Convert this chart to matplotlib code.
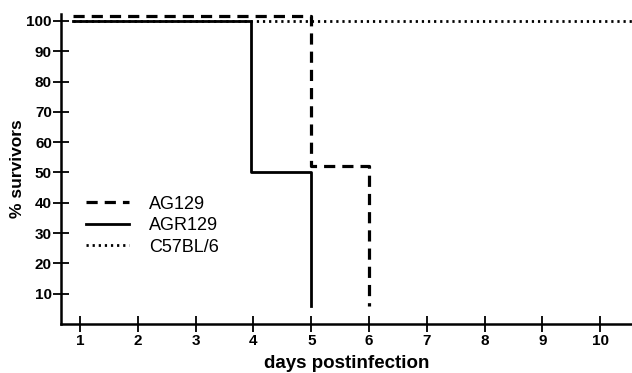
import matplotlib
matplotlib.use("Agg")
import matplotlib.pyplot as plt

plt.rcParams['font.family'] = ['Liberation Sans', 'DejaVu Sans']

# survival curves (days, % survivors)
ag129_days = [0.88, 5, 6, 6]
ag129_surv = [101.5, 52, 6, 6]
agr129_days = [0.88, 3.95, 5, 5]
agr129_surv = [100, 50, 6, 6]
c57_days = [0.88, 10.55]
c57_surv = [100, 100]

x_ticks = [1, 2, 3, 4, 5, 6, 7, 8, 9, 10]
y_ticks = [10, 20, 30, 40, 50, 60, 70, 80, 90, 100]

fig = plt.figure(figsize=(6.32, 3.73), dpi=100)
ax = fig.add_axes([61 / 632, 49 / 373, 1 - 61 / 632, (324 - 14) / 373])

ax.plot(ag129_days, ag129_surv, drawstyle='steps-post', color='black',
        lw=2.3, dashes=(3.5, 2.2), label='AG129')
ax.plot(agr129_days, agr129_surv, drawstyle='steps-post', color='black',
        lw=2.0, label='AGR129')
ax.plot(c57_days, c57_surv, drawstyle='steps-post', color='black',
        lw=2.0, dashes=(0.8, 1.4), label='C57BL/6')

ax.set_xlim(0.67, 10.55)
ax.set_ylim(0, 102.3)
ax.spines['top'].set_visible(False)
ax.spines['right'].set_visible(False)
ax.spines['left'].set_linewidth(1.8)
ax.spines['bottom'].set_linewidth(1.8)

ax.set_xticks(x_ticks)
ax.set_yticks(y_ticks)
ax.tick_params(direction='inout', length=11, width=1.3, labelsize=11)
ax.tick_params(axis='x', pad=2)
ax.tick_params(axis='y', pad=1)
for lbl in ax.get_xticklabels() + ax.get_yticklabels():
    lbl.set_fontweight('bold')

ax.set_xlabel('days postinfection', fontsize=13.5, fontweight='bold', labelpad=5)
ax.set_ylabel('% survivors', fontsize=12.5, fontweight='bold', labelpad=1)

ax.legend(loc='upper left', bbox_to_anchor=(0.016, 0.466), frameon=False,
          fontsize=13, handlelength=2.35, handletextpad=1.1, labelspacing=0.25)

fig.savefig('out.png', dpi=100)
